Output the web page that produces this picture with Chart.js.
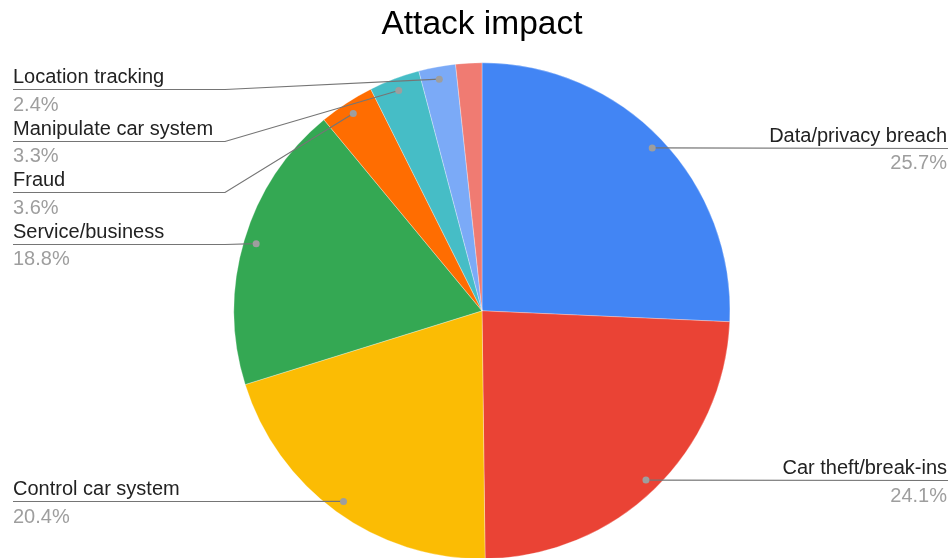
<!DOCTYPE html>
<html>
<head>
<meta charset="utf-8">
<title>Attack impact</title>
<script src="https://cdn.jsdelivr.net/npm/chart.js@4.4.1/dist/chart.umd.min.js"></script>
<style>
  html, body { margin: 0; padding: 0; background: #fff; overflow: hidden; }
  #wrap { width: 950px; height: 558px; position: relative; }
</style>
</head>
<body>
<div id="wrap"><canvas id="impactChart"></canvas></div>
<script>
// ─── Data ────────────────────────────────────────────────────
const CATEGORIES = [
  'Data/privacy breach',
  'Car theft/break-ins',
  'Control car system',
  'Service/business',
  'Fraud',
  'Manipulate car system',
  'Location tracking',
  'Other',
];
const SHARES = [25.7, 24.1, 20.4, 18.8, 3.6, 3.3, 2.4, 1.7];   // percent
const SLICE_COLORS = [
  '#4285f4', '#ea4335', '#fbbc04', '#34a853',
  '#ff6d01', '#46bdc6', '#7baaf7', '#f07b72',
];

const FONT = '"Liberation Sans", Arial, sans-serif';

// ─── Outside labels with leader lines ────────────────────────
const sliceLabels = {
  id: 'sliceLabels',
  afterDraw(chart, args, opts) {
    const ctx  = chart.ctx;
    const meta = chart.getDatasetMeta(0);
    const vals = chart.data.datasets[0].data;
    const left = [], right = [];

    meta.data.forEach((arc, i) => {
      if (vals[i] < opts.minShare) return;
      const mid = (arc.startAngle + arc.endAngle) / 2;
      const r   = arc.outerRadius * opts.anchor;
      const item = {
        name: chart.data.labels[i],
        pct:  vals[i].toFixed(1) + '%',
        dx:   arc.x + Math.cos(mid) * r,
        dy:   arc.y + Math.sin(mid) * r,
      };
      item.ly = item.dy;
      (item.dx < arc.x ? left : right).push(item);
    });

    // keep stacked labels from overlapping
    [left, right].forEach((side) => {
      side.sort((a, b) => a.dy - b.dy);
      let prev = -Infinity;
      side.forEach((it) => {
        it.ly = Math.max(it.dy, prev + opts.spacing, opts.minLineY);
        prev = it.ly;
      });
    });

    ctx.save();
    ctx.lineWidth = 1.2;
    ctx.strokeStyle = opts.lineColor;

    left.forEach((it) => {
      const y = Math.round(it.ly) + 0.5;
      ctx.beginPath();
      ctx.moveTo(opts.leftX, y);
      ctx.lineTo(opts.elbowX, y);
      ctx.lineTo(it.dx, it.dy);
      ctx.stroke();
    });
    right.forEach((it) => {
      const y = Math.round(it.ly) + 0.5;
      ctx.beginPath();
      ctx.moveTo(it.dx, it.dy);
      ctx.lineTo(opts.rightLineEnd, y);
      ctx.stroke();
    });

    ctx.fillStyle = opts.dotColor;
    [...left, ...right].forEach((it) => {
      ctx.beginPath();
      ctx.arc(it.dx, it.dy, 3.5, 0, Math.PI * 2);
      ctx.fill();
    });

    ctx.font = `${opts.fontSize}px ${FONT}`;
    ctx.textBaseline = 'alphabetic';
    const drawText = (it, x, align) => {
      ctx.textAlign = align;
      ctx.fillStyle = opts.nameColor;
      ctx.fillText(it.name, x, it.ly - 6);
      ctx.fillStyle = opts.pctColor;
      ctx.fillText(it.pct, x, it.ly + 21.5);
    };
    left.forEach((it) => drawText(it, opts.leftX, 'left'));
    right.forEach((it) => drawText(it, opts.rightX, 'right'));
    ctx.restore();
  },
};

// ─── Chart ───────────────────────────────────────────────────
new Chart(document.getElementById('impactChart'), {
  type: 'pie',
  data: {
    labels: CATEGORIES,
    datasets: [{
      data: SHARES,
      backgroundColor: SLICE_COLORS,
      borderColor: 'rgba(255,255,255,0.6)',
      borderWidth: 0.5,
      radius: 248,
    }],
  },
  options: {
    responsive: true,
    maintainAspectRatio: false,
    devicePixelRatio: 1,
    animation: false,
    events: [],
    layout: { padding: { top: 0, left: 14, right: 0, bottom: 0 } },
    plugins: {
      legend:  { display: false },
      tooltip: { enabled: false },
      title: {
        display: true,
        text: 'Attack impact',
        color: '#000',
        font: { family: FONT, size: 33.5, weight: 'normal', lineHeight: 1.2 },
        padding: { top: 4.5, bottom: 19 },
      },
      sliceLabels: {
        minShare: 2,
        anchor: 0.95,
        spacing: 51.5,
        minLineY: 89,
        leftX: 13,
        elbowX: 225,
        rightX: 947,
        rightLineEnd: 948,
        fontSize: 20,
        lineColor: '#757575',
        dotColor: '#9e9e9e',
        nameColor: '#222222',
        pctColor: '#9e9e9e',
      },
    },
  },
  plugins: [sliceLabels],
});
</script>
</body>
</html>
